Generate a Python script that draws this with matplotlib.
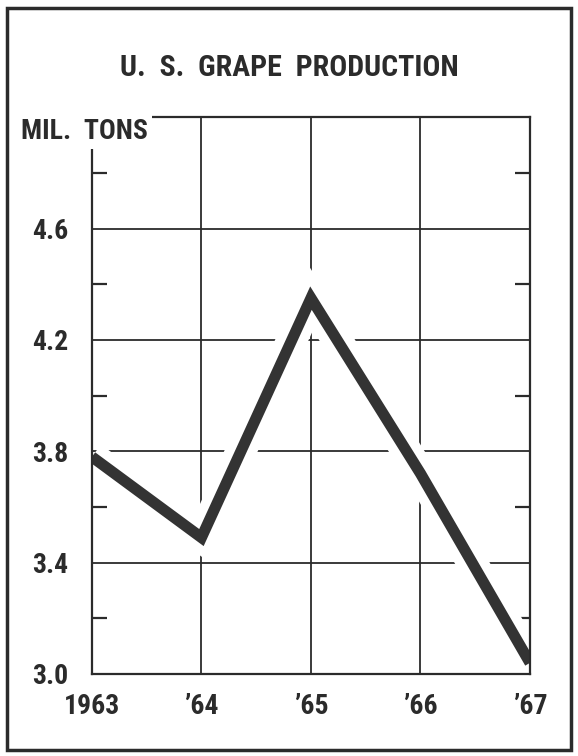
import matplotlib
import matplotlib.pyplot as plt
from matplotlib.patches import Rectangle

matplotlib.use("Agg")

# 数据
years = [1963, 1964, 1965, 1966, 1967]
year_labels = ["1963", "\u201964", "\u201965", "\u201966", "\u201967"]
production = [3.78, 3.49, 4.35, 3.72, 3.04]  # 百万吨
y_major = [3.0, 3.4, 3.8, 4.2, 4.6]
y_minor = [3.2, 3.6, 4.0, 4.4, 4.8]

font = ['Roboto Condensed', 'Archivo Narrow', 'Oswald', 'DejaVu Sans']
ink = '#2b2b2b'

fig = plt.figure(figsize=(5.78, 7.56), dpi=100)
ax = fig.add_axes([0.159, 0.1085, 0.758, 0.7365])

ax.set_xlim(1963, 1967)
ax.set_ylim(3.0, 5.0)

# 网格
for y in y_major[1:]:
    ax.axhline(y, color=ink, linewidth=1.3, zorder=1)
for x in years[1:-1]:
    ax.axvline(x, color=ink, linewidth=1.3, zorder=1)

# 白色底衬 + 粗线
ax.plot(years, production, color='white', linewidth=22, solid_joinstyle='miter',
        solid_capstyle='butt', zorder=2)
ax.plot(years, production, color='#333333', linewidth=8, solid_joinstyle='miter',
        solid_capstyle='butt', zorder=3)

for s in ax.spines.values():
    s.set_linewidth(1.6)
    s.set_color(ink)
    s.set_zorder(4)

ax.set_xticks(years)
ax.set_xticklabels(year_labels)
ax.set_yticks(y_major)
ax.set_yticklabels([f"{v:.1f}" for v in y_major])
ax.set_yticks(y_minor, minor=True)
ax.tick_params(axis='both', which='major', length=0, labelsize=20, colors=ink)
ax.tick_params(axis='y', which='minor', direction='in', length=11, width=1.6,
               left=True, right=True, colors=ink)
ax.tick_params(axis='y', which='major', pad=17)
ax.tick_params(axis='x', which='major', pad=14)
for lbl in ax.get_xticklabels() + ax.get_yticklabels():
    lbl.set_fontfamily(font)
    lbl.set_fontweight('bold')

# 单位标签（白底遮住左上角）
fig.text(0.036, 0.826, "MIL.  TONS", fontsize=20, fontweight='bold', family=font,
         color=ink, ha='left', va='center',
         bbox=dict(facecolor='white', edgecolor='none', pad=3), zorder=10)

# 标题
fig.text(0.5, 0.91, "U.  S.  GRAPE  PRODUCTION", fontsize=21.5,
         fontweight='bold', family=font, color=ink, ha='center', va='center')

# 外框
fig.patches.append(Rectangle((0.012, 0.008), 0.976, 0.982, transform=fig.transFigure,
                             fill=False, edgecolor=ink, linewidth=2.5))

fig.savefig("out.png", dpi=100)
